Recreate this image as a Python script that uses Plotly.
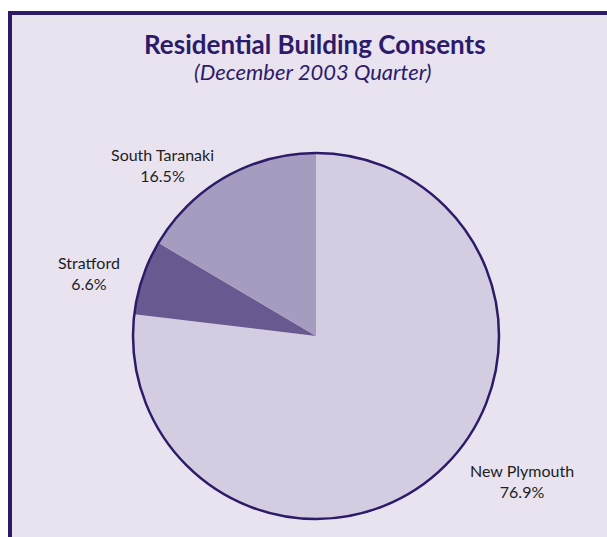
import plotly.graph_objects as go

# Residential building consents by district, December 2003 quarter
districts = ["New Plymouth", "Stratford", "South Taranaki"]
shares = [76.9, 6.6, 16.5]
slice_colors = ["#d4cce1", "#685a90", "#a69cbf"]

W, H = 607, 537
BG = "#e8e3ef"
INK = "#2d1b69"

# pie geometry in pixels
cx, cy, r = 316, 336, 183
dom_x = [(cx - r) / W, (cx + r) / W]
dom_y = [1 - (cy + r) / H, 1 - (cy - r) / H]

fig = go.Figure()

fig.add_trace(go.Pie(
    labels=districts,
    values=shares,
    sort=False,
    direction="clockwise",
    rotation=0,
    marker=dict(colors=slice_colors, line=dict(width=0)),
    textinfo="none",
    hoverinfo="label+percent",
    showlegend=False,
    domain=dict(x=dom_x, y=dom_y),
))

# outer rim only
fig.add_trace(go.Pie(
    labels=["rim"],
    values=[1],
    marker=dict(colors=["rgba(0,0,0,0)"], line=dict(color=INK, width=2.5)),
    textinfo="none",
    hoverinfo="skip",
    showlegend=False,
    domain=dict(x=dom_x, y=dom_y),
))

# label positions (pixels) for each district
label_pos = {
    "New Plymouth": (522, 481),
    "Stratford": (89, 273),
    "South Taranaki": (162, 165),
}

annotations = []
for name, val in zip(districts, shares):
    px, py = label_pos[name]
    annotations.append(dict(
        x=px / W, y=1 - py / H, xref="paper", yref="paper",
        text=f"{name}<br>{val:.1f}%",
        showarrow=False, align="center",
        xanchor="center", yanchor="middle",
        font=dict(family="Lato", size=16, color="#1e1e1e"),
    ))

annotations.append(dict(
    x=315 / W, y=1 - 44 / H, xref="paper", yref="paper",
    text="<b>Residential Building Consents</b>",
    showarrow=False, xanchor="center", yanchor="middle",
    font=dict(family="Lato", size=26, color=INK),
))
annotations.append(dict(
    x=313 / W, y=1 - 72 / H, xref="paper", yref="paper",
    text="<i>(December 2003 Quarter)</i>",
    showarrow=False, xanchor="center", yanchor="middle",
    font=dict(family="Lato", size=22, color=INK),
))

shapes = [
    dict(type="rect", xref="paper", yref="paper",
         x0=10 / W, x1=1.01, y0=-0.01, y1=1 - 13 / H,
         fillcolor=BG, line=dict(width=0), layer="below"),
    dict(type="line", xref="paper", yref="paper",
         x0=10 / W, x1=10 / W, y0=-0.01, y1=1 - 11 / H,
         line=dict(color=INK, width=4), layer="below"),
    dict(type="line", xref="paper", yref="paper",
         x0=8 / W, x1=1.01, y0=1 - 13 / H, y1=1 - 13 / H,
         line=dict(color=INK, width=4), layer="below"),
]

fig.update_layout(
    width=W, height=H,
    margin=dict(l=0, r=0, t=0, b=0),
    paper_bgcolor="white",
    plot_bgcolor="white",
    annotations=annotations,
    shapes=shapes,
)

fig.write_html("out.html")
